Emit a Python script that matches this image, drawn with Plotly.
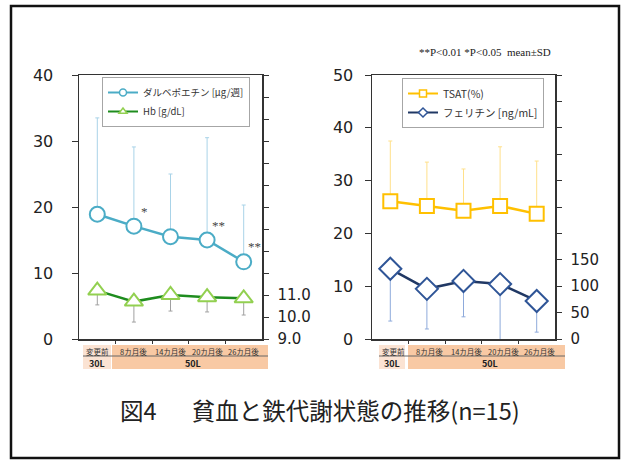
import plotly.graph_objects as go

# ---------------- data ----------------
categories = ["変更前", "8カ月後", "14カ月後", "20カ月後", "26カ月後"]
dose_labels = ["30L", "50L"]
x_idx = list(range(len(categories)))

darbe = [18.9, 17.1, 15.5, 15.0, 11.7]          # ダルベポエチン [μg/週]
darbe_sd = [14.6, 12.0, 9.5, 15.5, 8.6]
darbe_sig = ["", "*", "", "**", "**"]
hb = [11.2, 10.7, 11.0, 10.9, 10.85]             # Hb [g/dL]
hb_sd = [0.65, 0.93, 0.73, 0.67, 0.76]
tsat = [26.1, 25.2, 24.3, 25.2, 23.7]            # TSAT(%)
tsat_sd = [11.4, 8.3, 7.9, 11.2, 10.0]
ferritin = [133, 95, 110, 104, 72]               # フェリチン [ng/mL]
ferritin_sd = [99, 76, 68, 105, 59]

left_ticks = [0, 10, 20, 30, 40]
hb_tickvals = list(range(9, 22))
hb_ticktext = ["9.0", "10.0", "11.0"] + [""] * 10
tsat_ticks = [0, 10, 20, 30, 40, 50]
fer_tickvals = list(range(0, 501, 50))
fer_ticktext = ["0", "50", "100", "150"] + [""] * 7

W, H = 623, 461
def px(x):
    return x / W
def py(y):
    return 1 - y / H

AX = "#333333"
NUMFONT = "DejaVu Sans"
JPFONT = "Noto Sans CJK JP"

fig = go.Figure()

def add_series(y, sd, up, name, color, lcolor, ecolor, symbol, size, xa, ya, legend, lw=2.5):
    err = dict(type="data", symmetric=False,
               array=sd if up else [0] * len(sd),
               arrayminus=[0] * len(sd) if up else sd,
               color=ecolor, thickness=1, width=2)
    fig.add_trace(go.Scatter(
        x=x_idx, y=y, mode="lines+markers", showlegend=False,
        line=dict(color=lcolor, width=lw),
        marker=dict(symbol=symbol, size=size, color="white",
                    line=dict(color=color, width=2)),
        error_y=err, xaxis=xa, yaxis=ya, cliponaxis=False, hoverinfo="skip"))
    # legend entry (small marker like the original)
    fig.add_trace(go.Scatter(
        x=[None], y=[None], mode="lines+markers", name=name, legend=legend,
        line=dict(color=lcolor, width=2),
        marker=dict(symbol=symbol, size=7, color="white",
                    line=dict(color=color, width=1.5)),
        xaxis=xa, yaxis=ya))

add_series(darbe, darbe_sd, True, "ダルベポエチン [μg/週]", "#4bacc6", "#4bacc6",
           "#a9d3e8", "circle", 15, "x", "y", "legend")
add_series(hb, hb_sd, False, "Hb [g/dL]", "#92d050", "#1e8c1e",
           "#a0a0a0", "triangle-up", 16, "x", "y2", "legend")
add_series(tsat, tsat_sd, True, "TSAT(%)", "#ffc000", "#ffc000",
           "#ffe08a", "square", 14, "x2", "y3", "legend2")
add_series(ferritin, ferritin_sd, False, "フェリチン [ng/mL]", "#2f5597", "#203864",
           "#8eaadb", "diamond", 17, "x2", "y4", "legend2")

ydom = [py(339), py(75)]
common_x = dict(range=[-0.5, 4.5], showline=True, linecolor=AX, linewidth=1.5,
                mirror=True, tickvals=[0.5, 1.5, 2.5, 3.5], ticktext=[""] * 4,
                ticks="outside", ticklen=3, tickcolor=AX, showgrid=False,
                zeroline=False, fixedrange=True)
common_y = dict(showline=True, linecolor=AX, linewidth=1.5, ticks="outside",
                tickcolor=AX, showgrid=False, zeroline=False, fixedrange=True,
                automargin=False)

fig.update_layout(
    width=W, height=H, margin=dict(l=0, r=0, t=0, b=0, autoexpand=False),
    paper_bgcolor="white", plot_bgcolor="white",
    xaxis=dict(domain=[px(79), px(262)], anchor="y", **common_x),
    yaxis=dict(domain=ydom, anchor="x", range=[0, 40], tickvals=left_ticks,
               ticklen=6, tickfont=dict(family=NUMFONT, size=16, color="#222"),
               ticklabelstandoff=15, **common_y),
    yaxis2=dict(overlaying="y", side="right", anchor="x", range=[9, 21],
                tickvals=hb_tickvals, ticktext=hb_ticktext, ticklen=5,
                tickfont=dict(family=NUMFONT, size=15, color="#222"),
                ticklabelstandoff=6, **common_y),
    xaxis2=dict(domain=[px(372), px(555)], anchor="y3", **common_x),
    yaxis3=dict(domain=ydom, anchor="x2", range=[0, 50], tickvals=tsat_ticks,
                ticklen=6, tickfont=dict(family=NUMFONT, size=16, color="#222"),
                ticklabelstandoff=8, **common_y),
    yaxis4=dict(overlaying="y3", side="right", anchor="x2", range=[0, 500],
                tickvals=fer_tickvals, ticktext=fer_ticktext, ticklen=5,
                tickfont=dict(family=NUMFONT, size=15, color="#222"),
                ticklabelstandoff=6, **common_y),
    legend=dict(x=px(102), y=py(77), xanchor="left", yanchor="top",
                bgcolor="white", bordercolor="#a6a6a6", borderwidth=1,
                font=dict(family=JPFONT, size=9.5, color="#333"),
                itemwidth=30, tracegroupgap=0),
    legend2=dict(x=px(402), y=py(78), xanchor="left", yanchor="top",
                 bgcolor="white", bordercolor="#a6a6a6", borderwidth=1,
                 font=dict(family=JPFONT, size=10.5, color="#333"),
                 itemwidth=30, tracegroupgap=0),
    hovermode=False,
)

# significance marks
for i, s in enumerate(darbe_sig):
    if s:
        fig.add_annotation(x=x_idx[i], y=darbe[i], xref="x", yref="y", text=s,
                           showarrow=False, xshift=11, yshift=15,
                           xanchor="center", yanchor="middle",
                           font=dict(family="Liberation Serif", size=13, color="#444"))

# category bands below the axes
shapes = []
bands = [  # (30L x0,x1, 50L x0,x1, xaxis, text shift)
    (83, 111, 112, 268, "x", 0),
    (379, 405, 408, 565, "x2", 3),
]
yb0, yb1, ydiv = py(369), py(345), py(356)
for a0, a1, b0, b1, xa, sh in bands:
    shapes.append(dict(type="rect", xref="paper", yref="paper", x0=px(a0), x1=px(a1),
                       y0=yb0, y1=yb1, fillcolor="#fbe3d3", line=dict(width=0), layer="below"))
    shapes.append(dict(type="rect", xref="paper", yref="paper", x0=px(b0), x1=px(b1),
                       y0=yb0, y1=yb1, fillcolor="#f8c9a4", line=dict(width=0), layer="below"))
    shapes.append(dict(type="line", xref="paper", yref="paper", x0=px(a0), x1=px(b1),
                       y0=ydiv, y1=ydiv, line=dict(color="#666", width=1)))
    for i, c in enumerate(categories):
        fig.add_annotation(x=x_idx[i], y=py(351), xref=xa, yref="paper", text=c,
                           showarrow=False, xshift=sh, xanchor="center", yanchor="middle",
                           borderpad=0,
                           font=dict(family=JPFONT, size=7.5, color="#333"))
    fig.add_annotation(x=px((a0 + a1) / 2), y=py(363), xref="paper", yref="paper",
                       text="<b>%s</b>" % dose_labels[0], showarrow=False,
                       xanchor="center", yanchor="middle", borderpad=0,
                       font=dict(family=JPFONT, size=9, color="#222"))
    fig.add_annotation(x=px((b0 + b1) / 2 + 3), y=py(363), xref="paper", yref="paper",
                       text="<b>%s</b>" % dose_labels[1], showarrow=False,
                       xanchor="center", yanchor="middle", borderpad=0,
                       font=dict(family=JPFONT, size=9, color="#222"))

# outer frame
shapes.append(dict(type="rect", xref="paper", yref="paper", x0=px(11), x1=px(619),
                   y0=py(458), y1=py(6), line=dict(color="#111", width=2.5)))
fig.update_layout(shapes=shapes)

fig.add_annotation(x=px(485), y=py(52), xref="paper", yref="paper",
                   text="**P<0.01 *P<0.05  mean±SD", showarrow=False,
                   xanchor="center", yanchor="middle",
                   font=dict(family="Liberation Serif", size=11, color="#222"))
fig.add_annotation(x=px(320), y=py(410), xref="paper", yref="paper",
                   text="図4\u3000\u2002貧血と鉄代謝状態の推移(n=15)", showarrow=False,
                   xanchor="center", yanchor="middle",
                   font=dict(family=JPFONT, size=23.5, color="#222"))

fig.write_html("out.html", config={"displayModeBar": False, "staticPlot": True},
               post_script="document.body.style.margin='0px';"
                           "document.body.style.overflow='hidden';")
